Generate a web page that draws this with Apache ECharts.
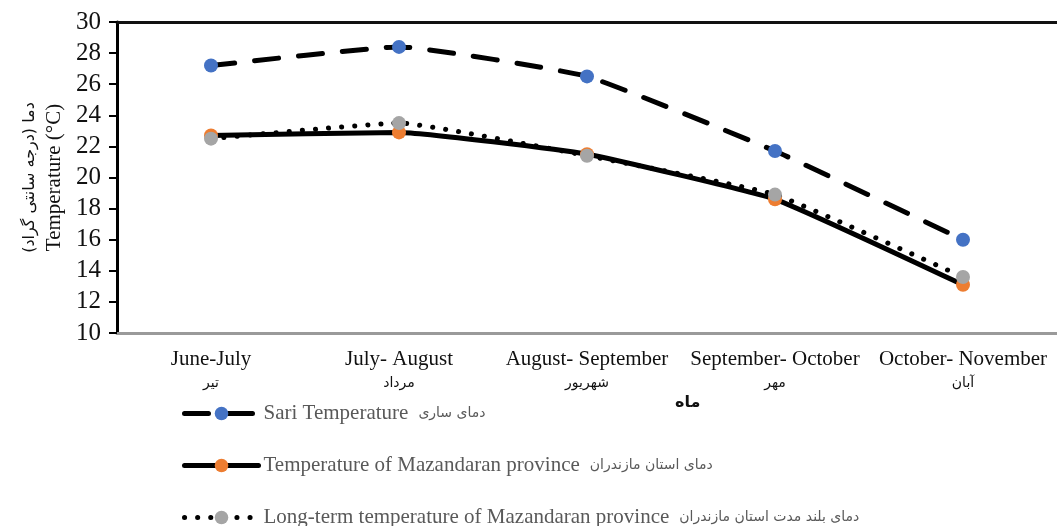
<!DOCTYPE html>
<html>
<head>
<meta charset="utf-8">
<script src="https://cdn.jsdelivr.net/npm/echarts@6/dist/echarts.min.js"></script>
<style>
  html, body { margin: 0; padding: 0; background: #fff; }
  #chart { width: 1057px; height: 526px; }
</style>
</head>
<body>
<div id="chart"></div>
<script>
// month ranges, english + persian
const monthsEn = ['June-July', 'July- August', 'August- September', 'September- October', 'October- November'];
const monthsFa = ['تیر', 'مرداد', 'شهریور', 'مهر', 'آبان'];

const sariTemp = [27.2, 28.4, 26.5, 21.7, 16.0];
const mazTemp = [22.7, 22.9, 21.5, 18.6, 13.1];
const longTermTemp = [22.5, 23.5, 21.4, 18.9, 13.6];

const yTicks = { min: 10, max: 30, step: 2 };

const seriesNames = [
    'Sari Temperature',
    'Temperature of Mazandaran province',
    'Long-term temperature of Mazandaran province'
];
const seriesNamesFa = ['دمای ساری', 'دمای استان مازندران', 'دمای بلند مدت استان مازندران'];

const serif = '"Liberation Serif", "DejaVu Serif", serif';
const faFont = '"DejaVu Sans", "Noto Sans", sans-serif';

const dashes = [[24, 20], 'solid', [0.1, 13]];
const colors = ['#4472C4', '#ED7D31', '#A5A5A5'];
const legendTops = [403, 455, 507];

const chart = echarts.init(document.getElementById('chart'));

const mkSeries = (i, data) => ({
    name: seriesNames[i],
    type: 'line',
    data: data,
    smooth: 0.12,
    symbol: 'circle',
    symbolSize: 14,
    itemStyle: { color: colors[i] },
    lineStyle: { color: '#000', width: 5, type: dashes[i], cap: 'round' },
    emphasis: { disabled: true }
});

// one legend per row so it never wraps into columns
const mkLegend = (i) => ({
    orient: 'vertical',
    left: 182,
    top: legendTops[i],
    padding: 0,
    itemWidth: 74,
    itemHeight: 17,
    data: [{
        name: seriesNames[i],
        lineStyle: { color: '#000', width: 5, type: dashes[i], cap: 'round' }
    }],
    formatter: (name) => '{en|' + name + '}   {fa|' + seriesNamesFa[seriesNames.indexOf(name)] + '}',
    textStyle: {
        rich: {
            en: { fontFamily: serif, fontSize: 21, color: '#595959', lineHeight: 20 },
            fa: { fontFamily: faFont, fontSize: 14, color: '#595959', lineHeight: 20 }
        }
    }
});

chart.setOption({
    animation: false,
    grid: { left: 117, top: 22, width: 952, height: 311 },
    xAxis: [
        {
            type: 'category',
            data: monthsEn,
            boundaryGap: true,
            axisLine: { lineStyle: { color: '#9a9a9a', width: 3 } },
            axisTick: { show: false },
            axisLabel: {
                margin: 13,
                interval: 0,
                formatter: (v, idx) => '{en|' + v + '}\n{fa|' + monthsFa[idx] + '}',
                rich: {
                    en: { fontFamily: serif, fontSize: 21, color: '#111', lineHeight: 26 },
                    fa: { fontFamily: faFont, fontSize: 14, color: '#111', lineHeight: 22 }
                }
            }
        },
        {
            type: 'category',
            data: monthsEn,
            position: 'top',
            axisLine: { lineStyle: { color: '#111', width: 3 } },
            axisTick: { show: false },
            axisLabel: { show: false }
        }
    ],
    yAxis: {
        type: 'value',
        min: yTicks.min,
        max: yTicks.max,
        interval: yTicks.step,
        splitLine: { show: false },
        axisLine: { show: true, lineStyle: { color: '#000', width: 3 } },
        axisTick: { show: true, length: 8, lineStyle: { color: '#000', width: 2 } },
        axisLabel: { fontFamily: serif, fontSize: 25, color: '#111', margin: 16 },
        name: '{fa|دما (درجه سانتی گراد)}\n{en|Temperature (°C)}',
        nameLocation: 'middle',
        nameRotate: 90,
        nameGap: 49,
        nameTextStyle: {
            rich: {
                fa: { fontFamily: faFont, fontSize: 16, color: '#111', lineHeight: 26 },
                en: { fontFamily: serif, fontSize: 21, color: '#111', lineHeight: 24 }
            }
        }
    },
    legend: [mkLegend(0), mkLegend(1), mkLegend(2)],
    graphic: [
        {
            type: 'text',
            left: 675,
            top: 395,
            style: { text: 'ماه', font: 'bold 16px "DejaVu Sans", sans-serif', fill: '#111' }
        }
    ],
    series: [
        mkSeries(0, sariTemp),
        mkSeries(1, mazTemp),
        mkSeries(2, longTermTemp)
    ]
});
</script>
</body>
</html>
